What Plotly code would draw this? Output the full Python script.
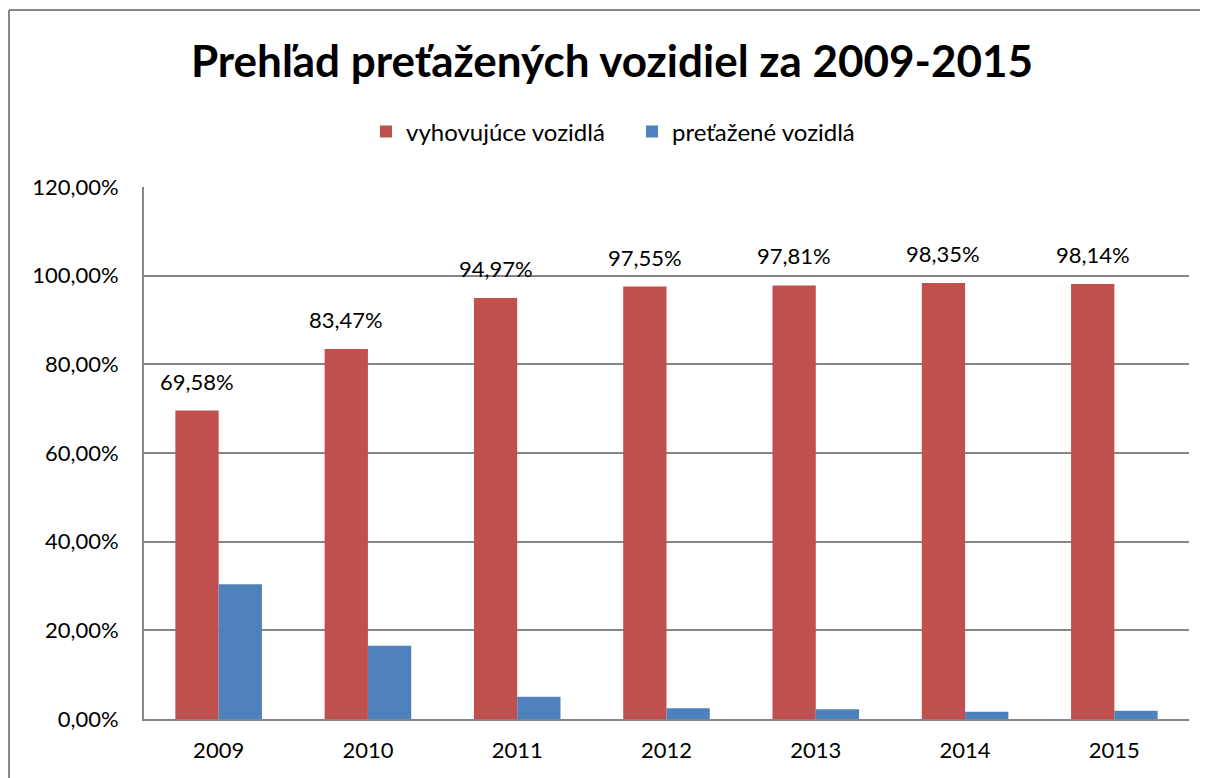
import plotly.graph_objects as go

years = ["2009", "2010", "2011", "2012", "2013", "2014", "2015"]
vyhovujuce = [69.58, 83.47, 94.97, 97.55, 97.81, 98.35, 98.14]
pretazene = [30.42, 16.53, 5.03, 2.45, 2.19, 1.65, 1.86]
y_ticks = [0, 20, 40, 60, 80, 100, 120]
y_tick_labels = [f"{v:.2f}%".replace(".", ",") for v in y_ticks]

# page body has an 8px margin; figure sized to fit the window
OFF = 8
W, H = 1200, 770
FONT = "Lato"
BARGAP = 0.42


def fx(s):
    return (s - OFF) / W


def fy(s):
    return 1 - (s - OFF) / H


fig = go.Figure()
fig.add_trace(go.Bar(
    x=years, y=vyhovujuce, name="vyhovujúce vozidlá",
    marker=dict(color="#C0504D", line=dict(width=0)),
))
fig.add_trace(go.Bar(
    x=years, y=pretazene, name="preťažené vozidlá",
    marker=dict(color="#4F81BD", line=dict(width=0)),
))

# data labels above the red bars
bar_w = (1 - BARGAP) / 2
annotations = []
for i, v in enumerate(vyhovujuce):
    annotations.append(dict(
        x=i - bar_w / 2, y=v, xref="x", yref="y", text=f"{v:.2f}%".replace(".", ","),
        showarrow=False, yanchor="bottom", yshift=14,
        font=dict(size=22, family=FONT, color="#000000"),
    ))

BORDER = dict(color="#868686", width=2)

fig.update_layout(
    width=W, height=H,
    margin=dict(l=0, r=0, t=0, b=0, autoexpand=False),
    paper_bgcolor="white", plot_bgcolor="white",
    barmode="group", bargap=BARGAP, bargroupgap=0,
    font=dict(family=FONT, size=22, color="#000000"),
    title=dict(text="<b>Prehľad preťažených vozidiel za 2009-2015</b>",
               x=fx(612), xanchor="center", y=fy(62), yanchor="middle",
               font=dict(size=44, family=FONT, color="#000000")),
    legend=dict(orientation="h", x=fx(366), xanchor="left", y=fy(132), yanchor="middle",
                font=dict(size=24, family=FONT), traceorder="normal",
                entrywidth=221, entrywidthmode="pixels"),
    showlegend=True,
    annotations=annotations,
    xaxis=dict(domain=[fx(144), fx(1189)], showline=True, linecolor="#868686", linewidth=2,
               ticks="", tickfont=dict(size=22), ticklabelstandoff=11, automargin=False),
    yaxis=dict(domain=[fy(719), fy(187)], range=[0, 120], tickvals=y_ticks,
               ticktext=y_tick_labels, showgrid=True, gridcolor="#868686",
               gridwidth=1.5, showline=True, linecolor="#868686", linewidth=2,
               ticks="", tickfont=dict(size=22), zeroline=False, ticklabelstandoff=19,
               automargin=False),
    shapes=[
        dict(type="line", xref="paper", yref="paper", x0=fx(9), x1=1, y0=fy(10), y1=fy(10),
             line=BORDER),
        dict(type="line", xref="paper", yref="paper", x0=fx(9), x1=fx(9), y0=fy(10), y1=0,
             line=BORDER),
    ],
)

fig.write_html("out.html")
